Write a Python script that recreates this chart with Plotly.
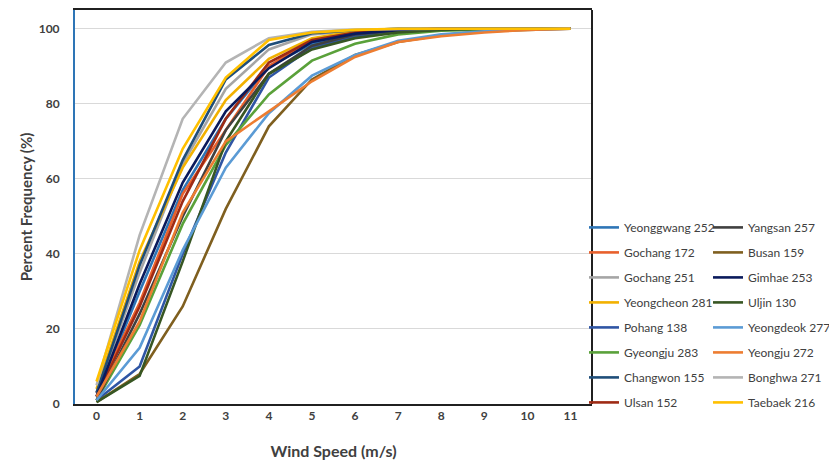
import plotly.graph_objects as go

wind_speed = [0, 1, 2, 3, 4, 5, 6, 7, 8, 9, 10, 11]

yeonggwang_252 = [2, 30, 57, 76, 90, 96, 98.5, 99.5, 99.8, 100, 100, 100]
gochang_172 = [3, 27, 56, 73, 90, 97, 99, 99.7, 100, 100, 100, 100]
gochang_251 = [3, 35, 64, 84, 94.5, 98.5, 99.5, 100, 100, 100, 100, 100]
yeongcheon_281 = [4, 38, 63, 81, 92, 97.5, 99.3, 99.8, 100, 100, 100, 100]
pohang_138 = [1, 10, 40, 67, 87, 95, 98, 99.3, 99.8, 100, 100, 100]
gyeongju_283 = [1, 21, 48, 69, 82.5, 91.5, 96, 98.5, 99.5, 99.8, 100, 100]
changwon_155 = [3, 37, 65, 86.5, 95.7, 98.8, 99.6, 100, 100, 100, 100, 100]
ulsan_152 = [2, 26, 54, 76, 91, 97, 99, 99.7, 100, 100, 100, 100]
yangsan_257 = [1, 24, 50, 73, 88, 95.5, 98.5, 99.5, 100, 100, 100, 100]
busan_159 = [0.5, 8, 26, 52, 74, 86.5, 93, 96.5, 98.3, 99.3, 99.7, 100]
gimhae_253 = [2, 32, 59, 78, 89.5, 96.5, 98.7, 99.6, 100, 100, 100, 100]
uljin_130 = [0.5, 7.5, 38, 70, 88, 94.5, 97.5, 99, 99.7, 100, 100, 100]
yeongdeok_277 = [1, 15, 41, 63, 77.5, 87.5, 93, 96.8, 98.5, 99.3, 99.8, 100]
yeongju_272 = [2, 22, 51, 70, 78, 86, 92.5, 96.5, 98, 99, 99.7, 100]
bonghwa_271 = [5, 45, 76, 91, 97.5, 99.2, 99.8, 100, 100, 100, 100, 100]
taebaek_216 = [6, 41, 68, 87, 97, 99, 99.7, 100, 100, 100, 100, 100]

series = [
    ("Yeonggwang 252", yeonggwang_252, "#2E75B6"),
    ("Gochang 172", gochang_172, "#E8602C"),
    ("Gochang 251", gochang_251, "#A5A5A5"),
    ("Yeongcheon 281", yeongcheon_281, "#F2B100"),
    ("Pohang 138", pohang_138, "#2F55A4"),
    ("Gyeongju 283", gyeongju_283, "#5AA13A"),
    ("Changwon 155", changwon_155, "#1F4E79"),
    ("Ulsan 152", ulsan_152, "#9E2A14"),
    ("Yangsan 257", yangsan_257, "#404040"),
    ("Busan 159", busan_159, "#7F5F1F"),
    ("Gimhae 253", gimhae_253, "#0A1A5C"),
    ("Uljin 130", uljin_130, "#375623"),
    ("Yeongdeok 277", yeongdeok_277, "#5B9BD5"),
    ("Yeongju 272", yeongju_272, "#ED7D31"),
    ("Bonghwa 271", bonghwa_271, "#B4B4B4"),
    ("Taebaek 216", taebaek_216, "#FFC000"),
]

fig = go.Figure()
for i, (name, vals, col) in enumerate(series):
    fig.add_trace(go.Scatter(
        x=wind_speed, y=vals, name=name, mode="lines",
        line=dict(color=col, width=2.6),
        legend="legend" if i < 8 else "legend2",
        legendgroup=name,
    ))

font_family = "Lato, Open Sans, sans-serif"
legend_common = dict(
    font=dict(family=font_family, size=12, color="#404040"),
    bgcolor="rgba(0,0,0,0)", tracegroupgap=6, yanchor="top",
    xanchor="left", itemwidth=30, traceorder="grouped",
)

fig.update_layout(
    width=829, height=457,
    margin=dict(l=67, r=245, t=2, b=61, autoexpand=False),
    paper_bgcolor="white", plot_bgcolor="white",
    font=dict(family=font_family, color="#404040"),
    legend=dict(x=0.9845, y=0.485, **legend_common),
    legend2=dict(x=1.2244, y=0.485, **legend_common),
    xaxis=dict(
        type="category", range=[-0.5, 11.5], automargin=False,
        tickmode="array", tickvals=wind_speed, ticktext=[str(v) for v in wind_speed],
        tickfont=dict(family=font_family, size=12, color="#404040", weight="bold"),
        showgrid=False, showline=True, linecolor="#202020", linewidth=2,
        mirror=True, ticks="", zeroline=False,
        title=dict(text="Wind Speed (m/s)", standoff=23,
                   font=dict(family=font_family, size=16, color="#404040", weight="bold")),
    ),
    yaxis=dict(
        range=[0, 105], tickmode="array", tickvals=[0, 20, 40, 60, 80, 100],
        automargin=False,
        tickfont=dict(family=font_family, size=12, color="#404040", weight="bold"),
        showgrid=True, gridcolor="#D9D9D9", gridwidth=1,
        showline=True, linecolor="#2E75B6", linewidth=2, ticks="",
        zeroline=False, ticklabelstandoff=11,
        title=dict(text="Percent Frequency (%)", standoff=2,
                   font=dict(family=font_family, size=15, color="#404040", weight="bold")),
    ),
    shapes=[dict(type="line", xref="paper", yref="paper", x0=1, x1=1, y0=0, y1=1,
                 line=dict(color="#202020", width=2))],
)

fig.write_html("out.html")
